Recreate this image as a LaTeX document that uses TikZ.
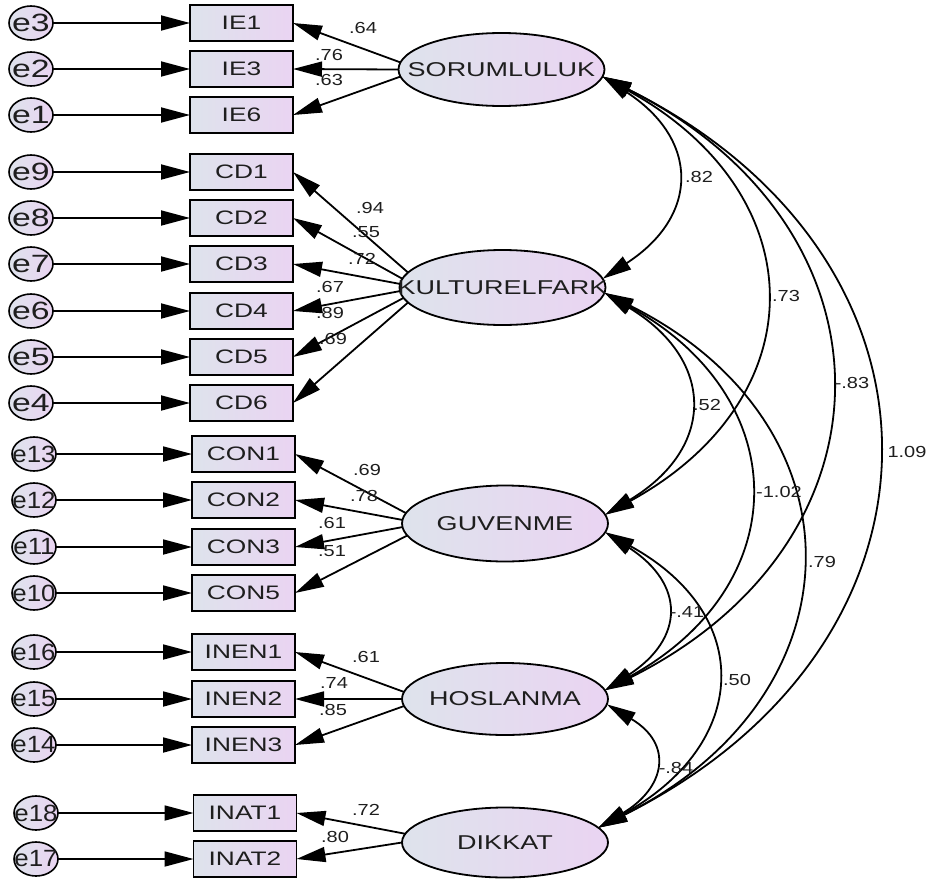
\documentclass[tikz,border=0pt]{standalone}
\usepackage{fontspec}
\setmainfont{Liberation Sans}
\newfontfamily\labfont[FakeStretch=1.35]{Liberation Sans}
\newfontfamily\numfont[FakeStretch=1.25]{Liberation Sans}
\newfontfamily\efontB[FakeStretch=1.1]{Liberation Sans}
\usetikzlibrary{arrows.meta,shapes.geometric}
\definecolor{gA}{RGB}{222,227,236}
\definecolor{gB}{RGB}{234,212,242}
\definecolor{txt}{RGB}{30,30,30}
\begin{document}
\begin{tikzpicture}[x=1pt,y=-1pt,
  every node/.style={inner sep=0pt,outer sep=0pt},
  obs/.style={draw,line width=1.8pt,rectangle,minimum width=103pt,minimum height=36pt,
    left color=gA,right color=gB,font=\labfont\fontsize{19.5}{21}\selectfont,text=txt},
  lat/.style={draw,line width=1.8pt,ellipse,minimum width=206pt,
    left color=gA,right color=gB},
  latlbl/.style={font=\labfont\fontsize{20}{22}\selectfont,text=txt},
  err/.style={draw,line width=1.6pt,ellipse,minimum width=44pt,minimum height=34pt,
    left color=gA,right color=gB},
  elblA/.style={font=\labfont\fontsize{25}{26}\selectfont,text=txt},
  elblB/.style={font=\efontB\fontsize{23.5}{25}\selectfont,text=txt},
  num/.style={font=\numfont\fontsize{16}{17}\selectfont,text=txt},
  arr/.style={-{Triangle[length=29pt,width=15pt]},line width=1.8pt},
  cov/.style={{Triangle[length=29pt,width=15pt]}-{Triangle[length=29pt,width=15pt]},line width=1.8pt}
]
\path[use as bounding box] (0,0) rectangle (930,881);

% error terms
\foreach \n/\x/\y in {e3/31/23,e2/31/69,e1/31/115,e9/31/172,e8/31/218,e7/31/264,e6/31/311,e5/31/357,e4/31/403}
  \node[err,label={[elblA]center:\n}] (\n) at (\x,\y) {};
\foreach \n/\x/\y in {e13/34/454,e12/34/500,e11/34/547,e10/34/593,e16/34/652,e15/34/699,e14/34/745,e18/36/813,e17/36/859}
  \node[err,label={[elblB]center:\n}] (\n) at (\x,\y) {};

% observed variables
\foreach \n/\x/\y in {IE1/241.5/23,IE3/241.5/69,IE6/241.5/115,CD1/241.5/172,CD2/241.5/218,CD3/241.5/264,CD4/241.5/311,CD5/241.5/357,CD6/241.5/403,CON1/243.5/454,CON2/243.5/500,CON3/243.5/547,CON5/243.5/593,INEN1/243.5/652,INEN2/243.5/699,INEN3/243.5/745,INAT1/245/813,INAT2/245/859}
  \node[obs] (\n) at (\x,\y) {\n};

% error arrows
\foreach \e/\o in {e3/IE1,e2/IE3,e1/IE6,e9/CD1,e8/CD2,e7/CD3,e6/CD4,e5/CD5,e4/CD6,e13/CON1,e12/CON2,e11/CON3,e10/CON5,e16/INEN1,e15/INEN2,e14/INEN3,e18/INAT1,e17/INAT2}
  \draw[arr] (\e.east) -- (\o.west);

% latent variables
\node[lat,minimum height=73pt,label={[latlbl]center:SORUMLULUK}] (S) at (501.5,69.5) {};
\node[lat,minimum height=75pt,label={[latlbl]center:KULTURELFARK}] (K) at (502.5,287.5) {};
\node[lat,minimum height=76pt,label={[latlbl]center:GUVENME}] (G) at (505,523.5) {};
\node[lat,minimum height=72pt,label={[latlbl]center:HOSLANMA}] (H) at (505,699) {};
\node[lat,minimum height=70pt,label={[latlbl]center:DIKKAT}] (D) at (505,842.5) {};

% loadings
\draw[arr] (S.176) -- (IE1.east);
\draw[arr] (S.180) -- (IE3.east);
\draw[arr] (S.184) -- (IE6.east);
\draw[arr] (K.171) -- (CD1.east);
\draw[arr] (K.175) -- (CD2.east);
\draw[arr] (K.178) -- (CD3.east);
\draw[arr] (K.182) -- (CD4.east);
\draw[arr] (K.186) -- (CD5.east);
\draw[arr] (K.189) -- (CD6.east);
\draw[arr] (G.174) -- (CON1.east);
\draw[arr] (G.178) -- (CON2.east);
\draw[arr] (G.182) -- (CON3.east);
\draw[arr] (G.187) -- (CON5.east);
\draw[arr] (H.176) -- (INEN1.east);
\draw[arr] (H.180) -- (INEN2.east);
\draw[arr] (H.184) -- (INEN3.east);
\draw[arr] (D.175) -- (INAT1.east);
\draw[arr] (D.180) -- (INAT2.east);

% loading labels
\node[num] at (363,28) {.64};
\node[num] at (329,55) {.76};
\node[num] at (329,80) {.63};
\node[num] at (370,208) {.94};
\node[num] at (366,232) {.55};
\node[num] at (362,259) {.72};
\node[num] at (330,287) {.67};
\node[num] at (330,313) {.89};
\node[num] at (333,339) {.69};
\node[num] at (367,470) {.69};
\node[num] at (364,496) {.78};
\node[num] at (332,523) {.61};
\node[num] at (332,551) {.51};
\node[num] at (366,657) {.61};
\node[num] at (334,683) {.74};
\node[num] at (333,710) {.85};
\node[num] at (366,810) {.72};
\node[num] at (335,837) {.80};

% covariances
\draw[cov] (S.-4) .. controls +(97,63) and +(97,-63) .. (K.5);
\draw[cov] (S.-4) .. controls +(213,117) and +(213,-117) .. (G.5);
\draw[cov] (S.-4) .. controls +(300,150) and +(300,-150) .. (H.5);
\draw[cov] (S.-4) .. controls +(367,183) and +(367,-183) .. (D.9);
\draw[cov] (K.-3) .. controls +(111,67) and +(111,-67) .. (G.5);
\draw[cov] (K.-3) .. controls +(191,105) and +(191,-105) .. (H.5);
\draw[cov] (K.-3) .. controls +(264,132) and +(264,-132) .. (D.9);
\draw[cov] (G.-5) .. controls +(80,52) and +(80,-52) .. (H.5);
\draw[cov] (G.-5) .. controls +(151,83) and +(151,-83) .. (D.9);
\draw[cov] (H.-3) .. controls +(67,40) and +(67,-40) .. (D.9);

% covariance labels
\node[num] at (699,177) {.82};
\node[num] at (786,296) {.73};
\node[num] at (852,383) {-.83};
\node[num] at (907,452) {1.09};
\node[num] at (707,405) {.52};
\node[num] at (779,492) {-1.02};
\node[num] at (822,562) {.79};
\node[num] at (687,612) {-.41};
\node[num] at (737,680) {.50};
\node[num] at (676,768) {-.84};
\end{tikzpicture}
\end{document}
